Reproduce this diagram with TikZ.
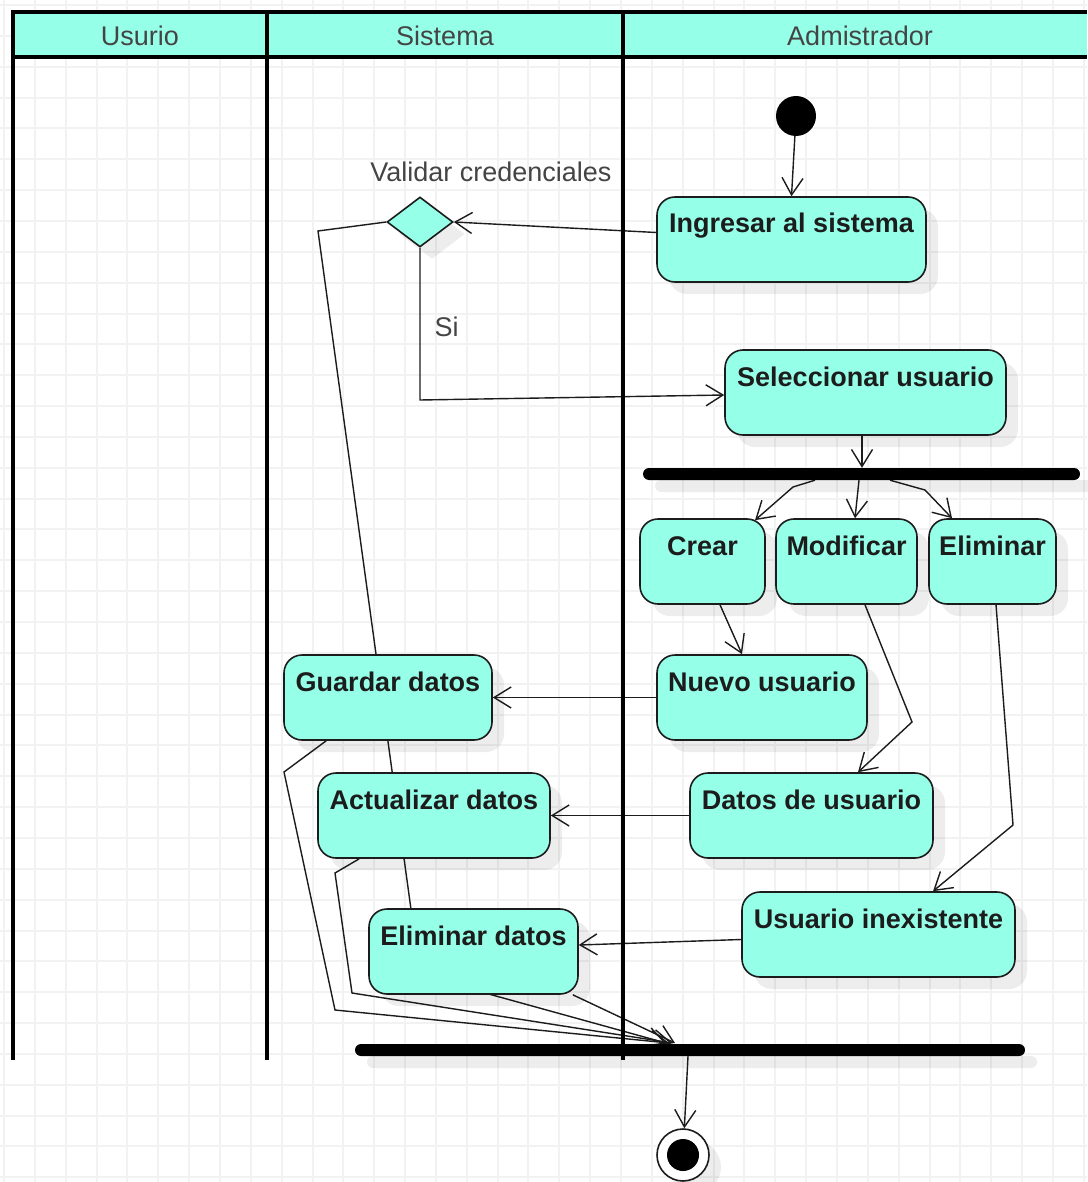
\documentclass[tikz,border=0pt]{standalone}
\usepackage{fontspec}
\setmainfont{Liberation Sans}
\usetikzlibrary{arrows.meta,shapes.geometric,shadows,calc}
\definecolor{aqua}{RGB}{150,255,232}
\definecolor{gridc}{RGB}{242,242,242}
\definecolor{inkc}{RGB}{28,28,28}
\definecolor{greyt}{RGB}{68,68,68}
\pgfdeclarelayer{gridlayer}
\pgfdeclarelayer{edgelayer}
\pgfsetlayers{gridlayer,edgelayer,main}
\begin{document}
\begin{tikzpicture}[x=1pt,y=-1pt,
  shadowed/.style={general shadow={fill=black, opacity=0.07, shadow xshift=12pt, shadow yshift=-12pt}},
  act/.style={draw=inkc, line width=1.6pt, fill=aqua, rounded corners=18pt, shadowed,
    inner xsep=2pt, inner ysep=0pt, text height=36pt, text depth=49pt, minimum height=85pt,
    font=\fontsize{27}{30}\selectfont\bfseries, text=inkc},
  barnode/.style={fill=black, draw=none, rounded corners=6pt, minimum height=12pt, inner sep=0pt, shadowed},
  hdr/.style={font=\fontsize{27}{30}\selectfont, text=greyt, inner sep=0pt, anchor=base},
  note/.style={font=\fontsize{27}{30}\selectfont, text=greyt, inner sep=0pt},
  link/.style={draw=inkc, line width=1.4pt},
  flow/.style={link, -{Straight Barb[length=17pt,width=21pt]}},
  lane/.style={draw=black, line width=4pt}
]
\useasboundingbox (0,0) rectangle (1087,1182);
% background grid
\begin{pgfonlayer}{gridlayer}
  \fill[white] (0,0) rectangle (1087,1182);
  \foreach \i in {0,...,35} \draw[gridc, line width=2pt] ({4+30.85*\i},0) -- ({4+30.85*\i},1182);
  \foreach \j in {0,...,38} \draw[gridc, line width=2pt] (0,{5+30.85*\j}) -- (1087,{5+30.85*\j});
\end{pgfonlayer}

% swimlanes
\fill[aqua] (13,12) rectangle (1087,57);
\draw[lane] (11,12) -- (1087,12);
\draw[lane] (13,57) -- (1087,57);
\draw[lane] (13,12) -- (13,1060);
\draw[lane] (267,12) -- (267,1060);
\draw[lane] (623,12) -- (623,1060);
\node[hdr] (h1) at (140,46) {Usurio};
\node[hdr] (h2) at (445,46) {Sistema};
\node[hdr] (h3) at (860,46) {Admistrador};

% nodes
\node[circle, fill=black, minimum size=40pt, inner sep=0pt] (start) at (796,116) {};
\node[act, minimum width=269pt] (ingr) at (791.5,239.5) {Ingresar al sistema};
\node[diamond, draw=inkc, fill=aqua, line width=1.6pt, minimum width=66pt, minimum height=50pt,
      aspect=1.32, inner sep=0pt, shadowed] (dia) at (420,222) {};
\node[note, anchor=base] (vc) at (491,182) {Validar credenciales};
\node[act, minimum width=281pt] (sel) at (865.5,392.5) {Seleccionar usuario};
\node[barnode, minimum width=437pt] (fork1) at (861.5,474) {};
\node[act, minimum width=125pt] (crear) at (702.5,561.5) {Crear};
\node[act, minimum width=141pt] (modif) at (846.5,561.5) {Modificar};
\node[act, minimum width=127pt] (elim) at (992.5,561.5) {Eliminar};
\node[act, minimum width=210pt] (nuevo) at (762,697.5) {Nuevo usuario};
\node[act, minimum width=208pt] (guard) at (388,697.5) {Guardar datos};
\node[act, minimum width=232pt] (actu) at (434,815.5) {Actualizar datos};
\node[act, minimum width=243pt] (datos) at (811.5,815.5) {Datos de usuario};
\node[act, minimum width=273pt] (inex) at (878.5,934.5) {Usuario inexistente};
\node[act, minimum width=209pt] (elimd) at (473.5,951.5) {Eliminar datos};
\node[barnode, minimum width=670pt] (join) at (690,1050) {};
\node[circle, draw=inkc, line width=1.6pt, fill=white, minimum size=52pt, inner sep=0pt, shadowed] (fin) at (683,1155) {};
\node[circle, fill=black, minimum size=32pt, inner sep=0pt] (finin) at (fin.center) {};

% waypoints
\coordinate (w3) at (420,400);
\coordinate (w4a) at (318,231);
\coordinate (w4b) at (420,975);
\coordinate (w6a) at (793,487);
\coordinate (w6c) at (925,490);
\coordinate (w8) at (912,722);
\coordinate (w9) at (1013,825);
\coordinate (w14a) at (284,772);
\coordinate (w14b) at (335,1010);
\coordinate (w15a) at (335,873);
\coordinate (w15b) at (352,993);
\coordinate (j1) at (666,1043);
\coordinate (j2) at (669,1043);
\coordinate (j3) at (672,1043);
\coordinate (j4) at (675,1043);

% connectors
\begin{pgfonlayer}{edgelayer}
\draw[flow] (start) -- (ingr.north);
\draw[flow] ($(ingr.west)+(0,-7)$) -- (dia.east);
\draw[flow] (dia.south) -- node[note, pos=0.52, anchor=west, xshift=14pt] (si) {Si} (w3) -- ($(sel.west)+(0,2.5)$);
\draw[flow] (dia.west) -- (w4a) -- (w4b) -- (j1);
\draw[flow] ($(sel.south)+(-3.5,0)$) -- ($(fork1.north)+(0.5,0)$);
\draw[flow] ($(fork1.south)+(-46.5,0)$) -- (w6a) -- ($(crear.north)+(52.5,2)$);
\draw[flow] ($(fork1.south)+(-2.5,0)$) -- ($(modif.north)+(8.5,0)$);
\draw[flow] ($(fork1.south)+(28.5,0)$) -- (w6c) -- ($(elim.north)+(-40.5,0)$);
\draw[flow] ($(crear.south)+(17.5,0)$) -- ($(nuevo.north)+(-20,0)$);
\draw[flow] ($(modif.south)+(18.5,0)$) -- (w8) -- ($(datos.north)+(46.5,0)$);
\draw[flow] ($(elim.south)+(3.5,0)$) -- (w9) -- ($(inex.north)+(54.5,0)$);
\draw[flow] (nuevo.west) -- (guard.east);
\draw[flow] (datos.west) -- (actu.east);
\draw[flow] ($(inex.west)+(0,5)$) -- ($(elimd.east)+(0,-6.5)$);
\draw[flow] ($(guard.south west)+(43,0)$) -- (w14a) -- (w14b) -- (j2);
\draw[flow] ($(actu.south west)+(42,0)$) -- (w15a) -- (w15b) -- (j3);
\draw[flow] ($(elimd.south east)+(-6,0)$) -- (j4);
\draw[flow] ($(join.south)+(-2,0)$) -- (fin);
\end{pgfonlayer}
\end{tikzpicture}
\end{document}
